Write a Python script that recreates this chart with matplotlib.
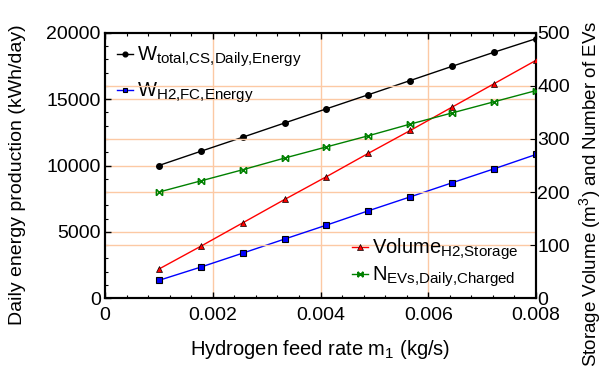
import numpy as np
import matplotlib
matplotlib.use("Agg")
import matplotlib.pyplot as plt
import matplotlib._mathtext as _mt
from matplotlib.path import Path
from matplotlib.ticker import MultipleLocator

_mt.SHRINK_FACTOR = 0.75

plt.rcParams['font.family'] = ['Liberation Sans', 'DejaVu Sans']
plt.rcParams['mathtext.fontset'] = 'custom'
plt.rcParams['mathtext.rm'] = 'Liberation Sans'
plt.rcParams['mathtext.it'] = 'Liberation Sans'

feed_rate = [0.001, 0.001778, 0.002556, 0.003333, 0.004111, 0.004889, 0.005667, 0.006444, 0.007222, 0.008]
w_total = [10000, 11070, 12130, 13200, 14270, 15330, 16400, 17470, 18530, 19550]
w_h2_fc = [1350, 2350, 3400, 4460, 5510, 6590, 7640, 8700, 9750, 10830]
vol_h2 = [55, 98, 142, 186, 229, 273, 316, 360, 404, 448]
n_evs = [200, 221, 242, 264, 285, 306, 328, 349, 370, 391]

grid_c = '#fcc9a4'

# bowtie-like marker |X|
verts = [(-1, -1), (-1, 1), (1, -1), (1, 1), (-1, -1), (1, 1), (-1, 1), (1, -1)]
codes = [Path.MOVETO, Path.LINETO, Path.MOVETO, Path.LINETO,
         Path.MOVETO, Path.LINETO, Path.MOVETO, Path.LINETO]
bowtie = Path(verts, codes)

fig = plt.figure(figsize=(6.03, 3.86), dpi=100)
ax = fig.add_axes([105/603, 1-298.3/386, (536-105)/603, (298.3-32.7)/386])
ax2 = ax.twinx()

ax.set_xlim(0, 0.008)
ax.set_ylim(0, 20000)
ax2.set_ylim(0, 500)

# grids
for x in [0.002, 0.004, 0.006]:
    ax.axvline(x, color=grid_c, lw=1, zorder=0)
for y in [5000, 10000, 15000]:
    ax.axhline(y, color=grid_c, lw=1, zorder=0)
for y in [100, 200, 300, 400]:
    ax2.axhline(y, color=grid_c, lw=1, zorder=0)

sub = lambda s: s.replace(',', '{,}')
l1, = ax.plot(feed_rate, w_total, color='black', marker='o', ms=4, lw=1,
              label=r'W$_{\mathregular{' + sub('total,CS,Daily,Energy') + '}}$', zorder=3)
l2, = ax.plot(feed_rate, w_h2_fc, color='blue', marker='s', ms=4, mfc='blue', mec='black', mew=0.8, lw=1,
              label=r'W$_{\mathregular{' + sub('H2,FC,Energy') + '}}$', zorder=3)
l3, = ax2.plot(feed_rate, vol_h2, color='red', marker='^', ms=5, mfc='red', mec='black', mew=0.5, lw=1,
               label=r'Volume$_{\mathregular{' + sub('H2,Storage') + '}}$', zorder=3)
l4, = ax2.plot(feed_rate, n_evs, color='green', marker=bowtie, ms=4.5, mew=1.1, lw=1,
               label=r'N$_{\mathregular{' + sub('EVs,Daily,Charged') + '}}$', zorder=3)

ax.set_xticks([0, 0.002, 0.004, 0.006, 0.008])
ax.set_xticklabels(['0', '0.002', '0.004', '0.006', '0.008'])
ax.xaxis.set_minor_locator(MultipleLocator(0.0004))
ax.set_yticks([0, 5000, 10000, 15000, 20000])
ax.yaxis.set_minor_locator(MultipleLocator(1000))
ax2.set_yticks([0, 100, 200, 300, 400, 500])

ax.tick_params(which='both', direction='in', top=True, labelsize=14)
ax.tick_params(which='major', length=4, width=1)
ax.tick_params(which='minor', length=2, width=0.8)
ax.tick_params(axis='x', pad=6)
ax.tick_params(axis='y', pad=3)
ax2.tick_params(which='both', direction='in', labelsize=14, length=4, pad=1)

for sp in ax.spines.values():
    sp.set_linewidth(1.5)
for sp in ax2.spines.values():
    sp.set_linewidth(1.5)

ax.set_xlabel(r'Hydrogen feed rate m$_{\mathregular{1}}$ (kg/s)', fontsize=14.5, labelpad=10)
fig.text(18/603, 1-175/386, 'Daily energy production (kWh/day)', fontsize=14,
         rotation=90, ha='center', va='center')
fig.text(590/603, 1-193.5/386, r'Storage Volume (m$^{\mathregular{3}}$) and Number of EVs',
         fontsize=13.5, rotation=90, ha='center', va='center')

legend_kw = dict(frameon=False, fontsize=14.5, handlelength=0.8, handletextpad=0.2,
                 borderaxespad=0, borderpad=0, markerscale=0.85)
leg1 = ax.legend(handles=[l1, l2], loc='upper left', labelspacing=0.6,
                 bbox_to_anchor=(0.028, 0.955), **legend_kw)
leg1.set_zorder(5)
leg2 = ax2.legend(handles=[l3, l4], loc='lower right', labelspacing=0.12,
                  bbox_to_anchor=(0.958, 0.035), **legend_kw)

fig.savefig('out.png', dpi=100)
